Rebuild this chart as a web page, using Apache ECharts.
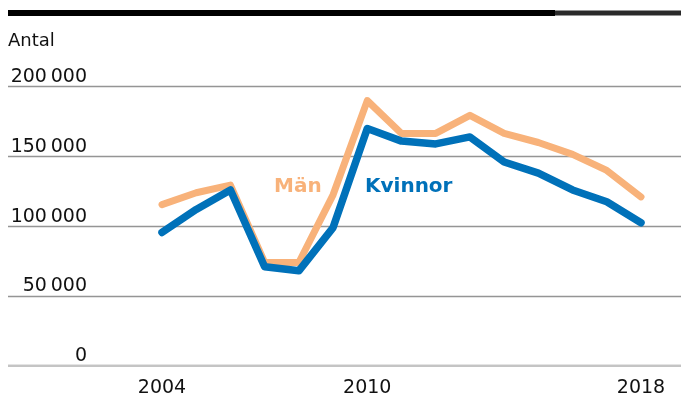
<!DOCTYPE html>
<html>
<head>
<meta charset="utf-8">
<script src="https://cdn.jsdelivr.net/npm/echarts@6/dist/echarts.min.js"></script>
<style>
  html, body { margin: 0; padding: 0; background: #fff; }
  #chart { width: 681px; height: 401px; }
</style>
</head>
<body>
<div id="chart"></div>
<script>
// Antal per år, 2004–2018
const years = ['2004','2005','2006','2007','2008','2009','2010','2011','2012','2013','2014','2015','2016','2017','2018'];
const man =     [115500, 124000, 129500, 74000, 74000, 122500, 190000, 166500, 166500, 179500, 166500, 160000, 151500, 140000, 121000];
const kvinnor = [95500, 112000, 126000, 71000, 68000, 99000, 170000, 161000, 159000, 164000, 146000, 138000, 126000, 117500, 102500];
const yTicks = [0, 50000, 100000, 150000, 200000];
const xShown = ['2004', '2010', '2018'];

const ORANGE = '#F8B27A';
const BLUE = '#0071B9';
const FONT = '"DejaVu Sans", "Liberation Sans", Arial, sans-serif';

const fmt = v => String(v).replace(/\B(?=(\d{3})+(?!\d))/g, '\u2009');

const chart = echarts.init(document.getElementById('chart'), null, { renderer: 'canvas' });

const plotTop = 86.7, plotBottom = 401 - 365.7;

chart.setOption({
  animation: false,
  backgroundColor: '#fff',
  grid: [
    { left: 8, right: 0, top: plotTop, bottom: plotBottom },
    { left: 162, right: 40, top: plotTop, bottom: plotBottom }
  ],
  xAxis: [
    { gridIndex: 0, type: 'value', min: 0, max: 1, show: false },
    {
      gridIndex: 1, type: 'category', data: years, boundaryGap: false,
      axisLine: { show: false }, axisTick: { show: false },
      axisLabel: {
        margin: 13, color: '#111', fontSize: 19, fontFamily: FONT,
        interval: (i, v) => xShown.indexOf(v) >= 0
      }
    }
  ],
  yAxis: [
    {
      gridIndex: 0, type: 'value', min: 0, max: 200000, interval: 50000,
      axisLine: { show: false }, axisTick: { show: false },
      splitLine: { show: true, lineStyle: { color: '#959595', width: 1.3 } },
      axisLabel: {
        inside: true, margin: 79, align: 'right', verticalAlign: 'bottom',
        color: '#111', fontSize: 19, fontFamily: FONT,
        formatter: v => yTicks.indexOf(v) >= 0 ? fmt(v) : ''
      }
    },
    { gridIndex: 1, type: 'value', min: 0, max: 200000, show: false }
  ],
  graphic: [
    { type: 'rect', shape: { x: 8, y: 10, width: 547, height: 6 }, style: { fill: '#000' } },
    { type: 'rect', shape: { x: 555, y: 10.5, width: 126, height: 5 }, style: { fill: '#2a2a2a' } },
    { type: 'rect', shape: { x: 8, y: 365, width: 673, height: 2 }, style: { fill: '#c4c4c4' }, z: 1 },
    { type: 'text', left: 8, top: 32, style: { text: 'Antal', fontSize: 18, fontFamily: FONT, fill: '#111' } },
    { type: 'text', left: 274, top: 177, style: { text: 'Män', fontSize: 20, fontWeight: 'bold', fontFamily: FONT, fill: ORANGE } },
    { type: 'text', left: 365, top: 177, style: { text: 'Kvinnor', fontSize: 20, fontWeight: 'bold', fontFamily: FONT, fill: BLUE } }
  ],
  series: [
    {
      name: 'Män', type: 'line', xAxisIndex: 1, yAxisIndex: 1, data: man,
      symbol: 'none', smooth: false,
      lineStyle: { color: ORANGE, width: 7, cap: 'round', join: 'round' }, z: 3
    },
    {
      name: 'Kvinnor', type: 'line', xAxisIndex: 1, yAxisIndex: 1, data: kvinnor,
      symbol: 'none', smooth: false,
      lineStyle: { color: BLUE, width: 7.5, cap: 'round', join: 'round' }, z: 4
    }
  ]
});
</script>
</body>
</html>
